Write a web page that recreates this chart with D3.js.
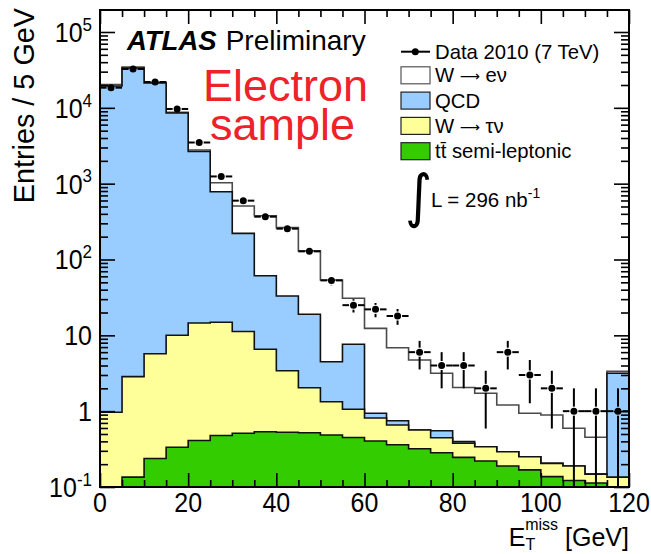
<!DOCTYPE html>
<html><head><meta charset="utf-8">
<script src="https://cdn.jsdelivr.net/npm/d3@7"></script>
<style>
body{margin:0;background:#fff;}
svg{display:block;font-family:"Liberation Sans",Arial,Helvetica,sans-serif;}
</style>
</head><body>
<svg id="c" width="651" height="554"></svg>
<script>
// ---------------- data ----------------
const binLow = [0,5,10,15,20,25,30,35,40,45,50,55,60,65,70,75,80,85,90,95,100,105,110,115];
const binWidth = 5;
const dataCounts = [18440,32500,21900,9660,3490,1245,597,367,255,128,53,25,22,18,6,4,4,2,6,3,2,1,1,1];
const dataErr = [135.8,180.3,148,98.3,59.1,35.3,24.4,19.2,16,11.3,7.3,5,4.7,4.24,2.45,2,2,1.41,2.45,1.73,1.41,1,1,1];
const ttbar  = [0,0.135,0.238,0.334,0.410,0.478,0.512,0.536,0.528,0.519,0.485,0.450,0.404,0.361,0.320,0.283,0.246,0.220,0.189,0.168,0.137,0.122,0.113,0];
const wtaunu = [0.966,2.72,5.49,9.67,14.1,14.4,10.7,6.01,2.89,1.52,0.845,0.61,0.409,0.296,0.245,0.164,0.131,0.120,0.103,0.083,0.068,0.067,0.035,0.135];
const qcd    = [19410,33540,21270,8545,2642,769,210,54.6,29.6,16.9,3.16,6.56,0.124,0.092,0,0.106,0.019,0,0,0,0,0,0,3.03];
const wenu   = [900,1030,430,180,124,246,286,317,230,111,49.2,23.2,11.4,6.12,4.17,2.61,1.66,1.38,0.914,0.686,0.685,0.405,0.304,0.18];
const xMajorTicks = [0,20,40,60,80,100,120];
const xTickLabels = ["0","20","40","60","80","100","120"];
const yMajorTicks = [0.1,1,10,100,1000,10000,100000];
const yTickLabels = [["10","-1"],["1",""],["10",""],["10","2"],["10","3"],["10","4"],["10","5"]];
const legendItems = [
  {key:"wenu",   pre:"W ", arrow:"\u27f6", post:" e\u03bd"},
  {key:"qcd",    pre:"QCD", arrow:"", post:""},
  {key:"wtaunu", pre:"W ", arrow:"\u27f6", post:" \u03c4\u03bd"},
  {key:"ttbar",  pre:"tt\u0304 semi-leptonic", arrow:"", post:""}
];
const colors = {
  wenu:  {fill:"#ffffff", stroke:"#4a4a4a"},
  qcd:   {fill:"#99ccff", stroke:"#111"},
  wtaunu:{fill:"#ffff99", stroke:"#111"},
  ttbar: {fill:"#33cc00", stroke:"#111"}
};

// ---------------- layout ----------------
const L=100, R=629, T=10, B=487;
const x = d3.scaleLinear().domain([0,120]).range([L,R]);
const y = d3.scaleLog().domain([0.1,1.95e5]).range([B,T]).clamp(true);
const svg = d3.select("#c");
const yb = y(0.1);

// ---------------- stacked histograms ----------------
const rows = binLow.map((b,i)=>({b, ttbar:ttbar[i], wtaunu:wtaunu[i], qcd:qcd[i], wenu:wenu[i]}));
const series = d3.stack().keys(["ttbar","wtaunu","qcd","wenu"])(rows);
const gH = svg.append("g");
series.slice().reverse().forEach(s=>{
  const pts=[];
  s.forEach(d=>{ const v=d[1]; pts.push([x(d.data.b), y(v)],[x(d.data.b+binWidth), y(v)]); });
  gH.append("path")
    .attr("d", d3.area().x(p=>p[0]).y0(yb).y1(p=>p[1])(pts))
    .attr("fill", colors[s.key].fill);
  gH.append("path")
    .attr("d", d3.line()([[x(0),yb],...pts,[x(120),yb]]))
    .attr("fill","none").attr("stroke",colors[s.key].stroke)
    .attr("stroke-width",1.6);
});

// ---------------- data points ----------------
const gD = svg.append("g").attr("stroke","#000").attr("stroke-width",2);
const gap=4.5;
binLow.forEach((b,i)=>{
  const n=dataCounts[i]; if(!(n>0)) return;
  const cx=x(b+binWidth/2), cy=y(n);
  gD.append("line").attr("x1",x(b)).attr("x2",cx-gap).attr("y1",cy).attr("y2",cy);
  gD.append("line").attr("x1",cx+gap).attr("x2",x(b+binWidth)).attr("y1",cy).attr("y2",cy);
  const yu=y(n+dataErr[i]), yl=y(Math.max(n-dataErr[i],0));
  if(yu<cy-gap) gD.append("line").attr("x1",cx).attr("x2",cx).attr("y1",yu).attr("y2",cy-gap);
  if(yl>cy+gap) gD.append("line").attr("x1",cx).attr("x2",cx).attr("y1",cy+gap).attr("y2",yl);
  gD.append("circle").attr("cx",cx).attr("cy",cy).attr("r",3.5).attr("fill","#000").attr("stroke","none");
});

// ---------------- axes / frame ----------------
const gA = svg.append("g");
const xMinor = binLow.filter(v=>!xMajorTicks.includes(v));
gA.append("g").attr("transform",`translate(0,${B})`)
  .call(d3.axisBottom(x).tickValues(xMajorTicks).tickSize(-14).tickFormat(""))
  .call(g=>g.select(".domain").remove());
gA.append("g").attr("transform",`translate(0,${B})`)
  .call(d3.axisBottom(x).tickValues(xMinor).tickSize(-7).tickFormat(""))
  .call(g=>g.select(".domain").remove());
gA.append("g").attr("transform",`translate(0,${T})`)
  .call(d3.axisTop(x).tickValues(xMajorTicks).tickSize(-14).tickFormat(""))
  .call(g=>g.select(".domain").remove());
gA.append("g").attr("transform",`translate(0,${T})`)
  .call(d3.axisTop(x).tickValues(xMinor).tickSize(-7).tickFormat(""))
  .call(g=>g.select(".domain").remove());
const yMinor=[];
yMajorTicks.forEach(d=>[2,3,4,5,6,7,8,9].forEach(k=>{ if(k*d<=1.95e5) yMinor.push(k*d); }));
[[L,d3.axisLeft],[R,d3.axisRight]].forEach(([px,ax])=>{
  gA.append("g").attr("transform",`translate(${px},0)`)
    .call(ax(y).tickValues(yMajorTicks).tickSize(-15).tickFormat(""))
    .call(g=>g.select(".domain").remove());
  gA.append("g").attr("transform",`translate(${px},0)`)
    .call(ax(y).tickValues(yMinor).tickSize(-8).tickFormat(""))
    .call(g=>g.select(".domain").remove());
});
gA.selectAll(".tick line").attr("stroke","#000").attr("stroke-width",1.6);
gA.append("rect").attr("x",L).attr("y",T).attr("width",R-L).attr("height",B-T)
  .attr("fill","none").attr("stroke","#000").attr("stroke-width",2);

// tick labels (slightly tall glyphs like the original)
const stretch = 1.12;
xMajorTicks.forEach((v,i)=>{
  svg.append("text").attr("transform",`translate(${x(v)},512) scale(1,${stretch})`)
    .attr("text-anchor","middle").attr("font-size",25).text(xTickLabels[i]);
});
yMajorTicks.forEach((v,i)=>{
  const t=svg.append("text").attr("transform",`translate(92,${y(v)+10}) scale(1,${stretch})`)
    .attr("text-anchor","end").attr("font-size",25);
  t.append("tspan").text(yTickLabels[i][0]);
  if(yTickLabels[i][1]) t.append("tspan").attr("dy",-10).attr("font-size",17).text(yTickLabels[i][1]);
});

// axis titles
const xt = svg.append("text").attr("x",R).attr("y",546).attr("text-anchor","end").attr("font-size",25);
xt.append("tspan").text("E");
xt.append("tspan").attr("font-size",16).attr("dy",4).text("T");
xt.append("tspan").attr("font-size",16).attr("dx",-10).attr("dy",-20).text("miss");
xt.append("tspan").attr("dy",16).text(" [GeV]");
svg.append("text").attr("transform","translate(34,8) rotate(-90)").attr("text-anchor","end")
  .attr("font-size",28.8).text("Entries / 5 GeV");

// ATLAS label
const at = svg.append("text").attr("x",127).attr("y",50).attr("font-size",27.5);
at.append("tspan").attr("font-weight","bold").attr("font-style","italic").text("ATLAS");
at.append("tspan").attr("dx",9).attr("font-size",28).text("Preliminary");
const el = svg.append("text").attr("font-size",45).attr("fill","#ee2228");
el.append("tspan").attr("x",203).attr("y",101).text("Electron");
el.append("tspan").attr("x",210).attr("y",140).text("sample");

// legend
const lx=401, lfs=20.3;
svg.append("line").attr("x1",lx).attr("x2",430).attr("y1",51.7).attr("y2",51.7).attr("stroke","#000").attr("stroke-width",2);
svg.append("circle").attr("cx",415.3).attr("cy",51.7).attr("r",3.5).attr("fill","#000");
svg.append("text").attr("x",435).attr("y",58.7).attr("font-size",lfs).text("Data 2010 (7 TeV)");
legendItems.forEach((it,i)=>{
  const cy = 75.3 + i*25.3;
  svg.append("rect").attr("x",lx).attr("y",cy-8.5).attr("width",29).attr("height",17)
    .attr("fill",colors[it.key].fill).attr("stroke",it.key==="wenu"?"#555":"#222").attr("stroke-width",1.2);
  const t = svg.append("text").attr("x",435).attr("y",cy+7).attr("font-size",lfs);
  t.append("tspan").text(it.pre);
  if(it.arrow) t.append("tspan").attr("font-family","DejaVu Sans").attr("font-size",14).attr("dy",-1).text(it.arrow);
  if(it.post) t.append("tspan").attr("dy",1).text(it.post);
});
// luminosity
svg.append("text").attr("transform","translate(405,216) scale(1,1.12)").attr("font-size",52)
  .attr("font-family","DejaVu Sans").text("\u222b");
const lt = svg.append("text").attr("x",431).attr("y",206.5).attr("font-size",20.5);
lt.append("tspan").text("L = 296 nb");
lt.append("tspan").attr("dy",-9).attr("font-size",14).text("-1");
</script>
</body></html>
